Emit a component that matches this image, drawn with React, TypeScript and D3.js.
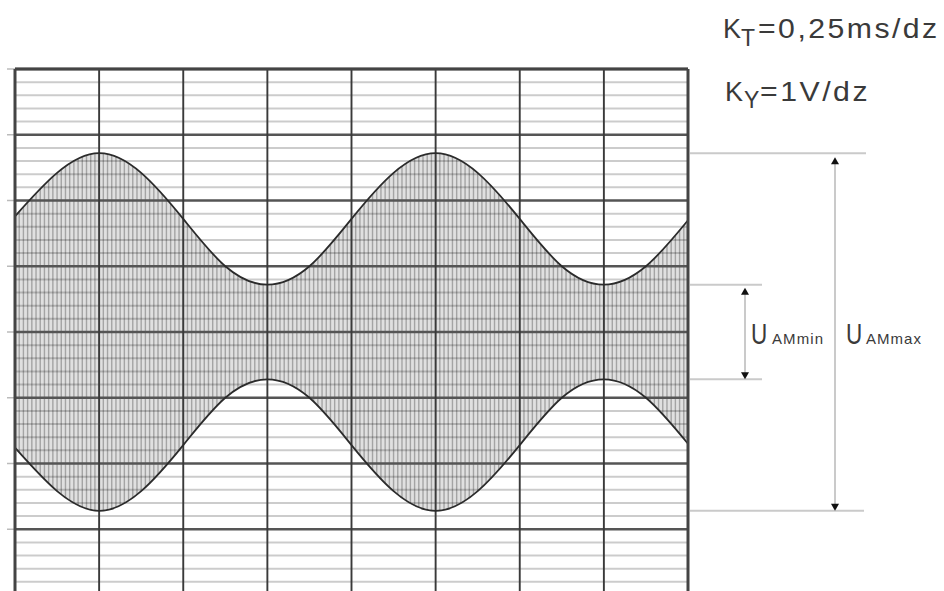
import React from 'react';
import * as d3 from 'd3';

const W = 944;
const H = 591;

// oscilloscope screen, 8 x 8 divisions with 5 subdivisions each
const divsX = [0, 1, 2, 3, 4, 5, 6, 7, 8];
const divsY = [-4, -3, -2, -1, 0, 1, 2, 3, 4];
const subdivs = 5;

// upper envelope of the AM signal (divisions); the lower one is its mirror
const envT = [0, 0.5, 1, 1.5, 2, 2.5, 3, 3.5, 4, 4.5, 5, 5.5, 6, 6.5, 7, 7.5, 8];
const envU = [1.76, 2.42, 2.72, 2.42, 1.72, 1.0, 0.72, 1.0, 1.72, 2.42, 2.72, 2.42, 1.72, 1.0, 0.72, 1.0, 1.7];

const uAmMax = 2.72;
const uAmMin = 0.72;
const carrierPerDiv = 20; // hatching lines per division

const App = () => {
  const x = d3.scaleLinear().domain([0, 8]).range([15, 688]);
  const y = d3.scaleLinear().domain([4, -4]).range([69, 595]);

  const pts = envT.map((t, i) => ({ t, u: envU[i] }));
  const upper = d3.line<any>().x(d => x(d.t)).y(d => y(d.u)).curve(d3.curveNatural);
  const lower = d3.line<any>().x(d => x(d.t)).y(d => y(-d.u)).curve(d3.curveNatural);
  const area = d3.area<any>()
    .x(d => x(d.t))
    .y0(d => y(-d.u))
    .y1(d => y(d.u))
    .curve(d3.curveNatural);

  const minorY: number[] = [];
  divsY.slice(0, -1).forEach(v => {
    for (let k = 1; k < subdivs; k++) minorY.push(v + k / subdivs);
  });
  const carrier = d3.range(0, 8 * carrierPerDiv + 1).map(i => i / carrierPerDiv);

  const [x0, x1] = x.range();
  const font = "'Liberation Sans', Arial, sans-serif";
  const txt = '#3a3a3a';

  const arrowUp = (cx: number, tip: number) =>
    `M${cx},${tip} L${cx - 4},${tip + 7} L${cx + 4},${tip + 7} Z`;
  const arrowDown = (cx: number, tip: number) =>
    `M${cx},${tip} L${cx - 4},${tip - 7} L${cx + 4},${tip - 7} Z`;

  const aMin = 745;
  const aMax = 835;

  return (
    <svg width={W} height={H} style={{ position: 'absolute', left: 0, top: 0, background: '#fff' }}>
      <defs>
        <clipPath id="env">
          <path d={area(pts) || ''} />
        </clipPath>
      </defs>

      {/* filled AM signal with carrier hatching */}
      <path d={area(pts) || ''} fill="#e0e0e0" />
      <g clipPath="url(#env)">
        {carrier.map((c, i) => (
          <line key={i} x1={x(c)} x2={x(c)} y1={y(4)} y2={y(-4)} stroke="#a4a4a4" strokeWidth={1.4} />
        ))}
      </g>

      {/* minor grid */}
      {minorY.map((v, i) => (
        <line key={i} x1={x0} x2={x1} y1={y(v)} y2={y(v)} stroke="#000" strokeOpacity={0.2} strokeWidth={2} />
      ))}

      {/* left ticks */}
      {divsY.map(v => (
        <line key={v} x1={7} x2={x0} y1={y(v)} y2={y(v)} stroke="#bbb" strokeWidth={1.5} />
      ))}

      {/* major grid */}
      {divsY.map(v => (
        <line key={v} x1={x0} x2={x1} y1={y(v)} y2={y(v)} stroke="#555" strokeWidth={2.6} />
      ))}
      {divsX.map(v => (
        <line key={v} x1={x(v)} x2={x(v)} y1={y(4)} y2={H} stroke="#3a3a3a" strokeWidth={1.9} />
      ))}

      {/* envelope */}
      <path d={upper(pts) || ''} fill="none" stroke="#2b2b2b" strokeWidth={1.8} />
      <path d={lower(pts) || ''} fill="none" stroke="#2b2b2b" strokeWidth={1.8} />

      {/* screen border */}
      <line x1={x0} x2={x0} y1={y(4)} y2={H} stroke="#444" strokeWidth={3} />
      <line x1={x1} x2={x1} y1={y(4)} y2={H} stroke="#444" strokeWidth={3} />
      <line x1={x0} x2={x1} y1={y(4)} y2={y(4)} stroke="#444" strokeWidth={3} />

      {/* U_AMmax / U_AMmin markers */}
      <g stroke="#cacaca" strokeWidth={2}>
        <line x1={x1 + 2} x2={866} y1={y(uAmMax)} y2={y(uAmMax)} />
        <line x1={x1 + 2} x2={864} y1={y(-uAmMax)} y2={y(-uAmMax)} />
        <line x1={x1 + 2} x2={762} y1={y(uAmMin)} y2={y(uAmMin)} />
        <line x1={x1 + 2} x2={762} y1={y(-uAmMin)} y2={y(-uAmMin)} />
      </g>
      <g stroke="#b8b8b8" strokeWidth={1.5}>
        <line x1={aMax} x2={aMax} y1={y(uAmMax) + 6} y2={y(-uAmMax) - 4} />
        <line x1={aMin} x2={aMin} y1={y(uAmMin) + 6} y2={y(-uAmMin) - 4} />
      </g>
      <g fill="#111">
        <path d={arrowUp(aMax, y(uAmMax) + 4)} />
        <path d={arrowDown(aMax, y(-uAmMax))} />
        <path d={arrowUp(aMin, y(uAmMin) + 3)} />
        <path d={arrowDown(aMin, y(-uAmMin))} />
      </g>

      <g fontFamily={font} fill={txt}>
        <text transform="translate(751,344) scale(0.75,1)" fontSize={30}>U</text>
        <text x={772} y={344} fontSize={15} textLength={51} lengthAdjust="spacing">AMmin</text>
        <text transform="translate(846,344) scale(0.75,1)" fontSize={30}>U</text>
        <text x={866} y={344} fontSize={15} textLength={55} lengthAdjust="spacing">AMmax</text>

        <text x={723} y={38} fontSize={27}>K</text>
        <text x={741} y={46} fontSize={23}>T</text>
        <text transform="translate(758,38) scale(1.12,1)" fontSize={27} textLength={160} lengthAdjust="spacing">=0,25ms/dz</text>

        <text x={725} y={101} fontSize={27}>K</text>
        <text x={744} y={108} fontSize={23}>Y</text>
        <text transform="translate(760,101) scale(1.12,1)" fontSize={27} textLength={96} lengthAdjust="spacing">=1V/dz</text>
      </g>
    </svg>
  );
};

export default App;
